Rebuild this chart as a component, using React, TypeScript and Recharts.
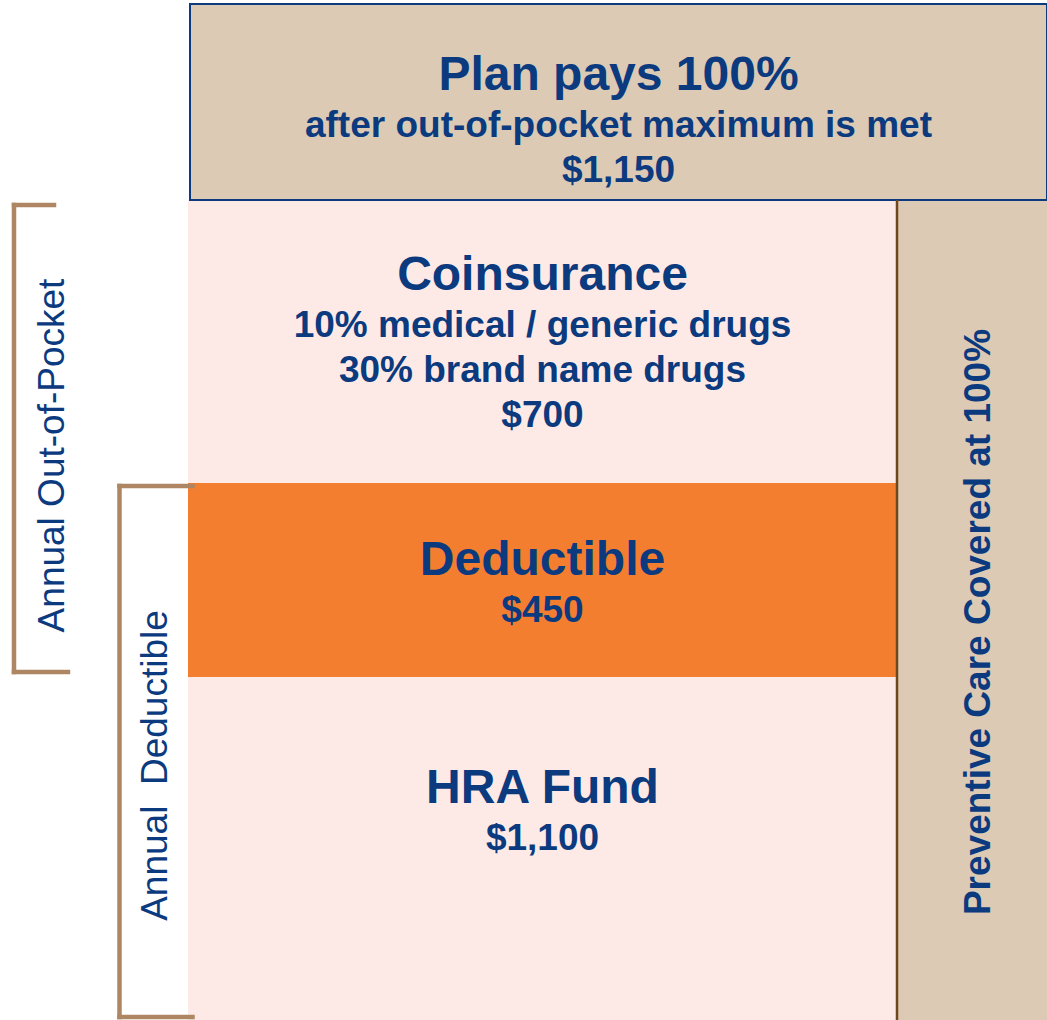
import { ComposedChart, Label, ReferenceArea, ReferenceLine, XAxis, YAxis } from "recharts";

// tiers listed bottom to top
const tierTitles = ["HRA Fund", "Deductible", "Coinsurance", "Plan pays 100%"];
const tierNotes: string[][] = [[], [], ["10% medical / generic drugs", "30% brand name drugs"], ["after out-of-pocket maximum is met"]];
const tierAmounts = ["$1,100", "$450", "$700", "$1,150"];
const tierDepths = [343, 194, 283, 196];

const mainColumnUnits = 709;
const preventiveUnits = 150;
const preventiveLabel = "Preventive Care Covered at 100%";

const bracketLabels = ["Annual Out-of-Pocket", "Annual  Deductible"];
// which tiers each bracket spans (first, last)
const bracketTiers = [
  [1, 2],
  [0, 1],
];

const NAVY = "#0B3A7F";
const TAN = "#DCCAB5";
const PINK = "#FDEAE6";
const ORANGE = "#F47E30";
const BRACKET = "#AE8663";
const DIVIDER = "#70481F";
const FONT = "'Liberation Sans', Arial, sans-serif";

const tierFills = [PINK, ORANGE, PINK, TAN];
const firstBaseline = [126, 92, 90, 86];
const bracketX = [-174, -68.5];
const bracketArm = [
  [40, 54],
  [73, 73],
];
const bracketInset = [5, 3];
const bracketTextShift = [
  [50, 17],
  [47.5, 14],
];

const starts = tierDepths.map((_, i) => tierDepths.slice(0, i).reduce((a, b) => a + b, 0));
const total = tierDepths.reduce((a, b) => a + b, 0);
const chartData = tierTitles.map((tier, i) => ({ tier, start: starts[i], end: starts[i] + tierDepths[i] }));

function tierLabel(i: number) {
  return (props: any) => {
    const vb = props.viewBox;
    if (!vb) return null;
    const cx = vb.x + vb.width / 2;
    const lines = [tierTitles[i], ...tierNotes[i], tierAmounts[i]];
    let y = vb.y + firstBaseline[i];
    return (
      <g>
        {lines.map((line, k) => {
          const ty = y;
          y += k === 0 ? 46.5 : 45;
          return (
            <text
              key={k}
              x={cx}
              y={ty}
              textAnchor="middle"
              fill={NAVY}
              fontFamily={FONT}
              fontWeight={700}
              fontSize={k === 0 ? 48 : 37}
            >
              {line}
            </text>
          );
        })}
      </g>
    );
  };
}

function verticalText(text: string, dx: number, dy: number, bold: boolean) {
  return (props: any) => {
    const vb = props.viewBox;
    if (!vb) return null;
    const x = vb.x + dx;
    const y = vb.y + vb.height / 2 + dy;
    return (
      <text
        x={x}
        y={y}
        transform={`rotate(-90 ${x} ${y})`}
        textAnchor="middle"
        fill={NAVY}
        fontFamily={FONT}
        fontWeight={bold ? 700 : 400}
        fontSize={37}
        style={{ whiteSpace: "pre" }}
      >
        {text}
      </text>
    );
  };
}

export default function App() {
  const topIndex = tierTitles.length - 1;
  return (
    <div style={{ position: "absolute", left: 0, top: 0, width: 1047, height: 1020, background: "#fff" }}>
      <ComposedChart width={1047} height={1020} data={chartData} margin={{ top: 4, right: 0, bottom: 0, left: 0 }}>
        <XAxis type="number" dataKey="start" hide domain={[-188, mainColumnUnits + preventiveUnits]} allowDataOverflow />
        <YAxis type="number" hide domain={[0, total]} allowDataOverflow />

        {tierDepths.slice(0, topIndex).map((d, i) => (
          <ReferenceArea
            key={tierTitles[i]}
            x1={0}
            x2={mainColumnUnits}
            y1={starts[i]}
            y2={starts[i] + d}
            fill={tierFills[i]}
            fillOpacity={1}
            stroke="none"
          >
            <Label content={tierLabel(i)} />
          </ReferenceArea>
        ))}

        <ReferenceArea
          x1={mainColumnUnits}
          x2={mainColumnUnits + preventiveUnits}
          y1={0}
          y2={starts[topIndex]}
          fill={TAN}
          fillOpacity={1}
          stroke="none"
        >
          <Label content={verticalText(preventiveLabel, 93, 12, true)} />
        </ReferenceArea>
        <ReferenceLine
          segment={[
            { x: mainColumnUnits, y: 0 },
            { x: mainColumnUnits, y: starts[topIndex] },
          ]}
          stroke={DIVIDER}
          strokeWidth={2.5}
        />

        <ReferenceArea
          x1={2}
          x2={mainColumnUnits + preventiveUnits}
          y1={starts[topIndex]}
          y2={total}
          fill={TAN}
          fillOpacity={1}
          stroke={NAVY}
          strokeWidth={2}
        >
          <Label content={tierLabel(topIndex)} />
        </ReferenceArea>

        {bracketLabels.map((label, b) => {
          const [lo, hi] = bracketTiers[b];
          const yLow = starts[lo] + bracketInset[b];
          const yHigh = starts[hi] + tierDepths[hi] - bracketInset[b];
          const x = bracketX[b];
          return [
            <ReferenceLine
              key={`v${b}`}
              segment={[
                { x, y: yLow },
                { x, y: yHigh },
              ]}
              stroke={BRACKET}
              strokeWidth={4.5}
              strokeLinecap="square"
            >
              <Label content={verticalText(label, bracketTextShift[b][0], bracketTextShift[b][1], false)} />
            </ReferenceLine>,
            <ReferenceLine
              key={`t${b}`}
              segment={[
                { x, y: yHigh },
                { x: x + bracketArm[b][0], y: yHigh },
              ]}
              stroke={BRACKET}
              strokeWidth={4.5}
              strokeLinecap="square"
            />,
            <ReferenceLine
              key={`l${b}`}
              segment={[
                { x, y: yLow },
                { x: x + bracketArm[b][1], y: yLow },
              ]}
              stroke={BRACKET}
              strokeWidth={4.5}
              strokeLinecap="square"
            />,
          ];
        })}
      </ComposedChart>
    </div>
  );
}
